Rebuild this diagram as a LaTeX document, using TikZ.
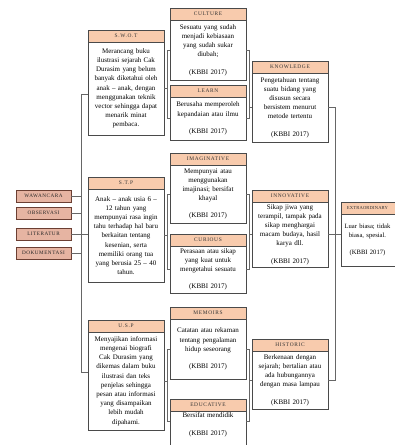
\documentclass[tikz,border=0pt]{standalone}
\usepackage{fontspec}
\setmainfont{Liberation Serif}
\usepackage{tikz}
\usetikzlibrary{positioning,calc,shadows}
\definecolor{headc}{HTML}{F8CBAD}
\definecolor{tagc}{HTML}{E6B4A2}
\definecolor{tagline}{HTML}{6B3F33}
\definecolor{boxline}{HTML}{4A4A4A}
\newcommand{\headfont}{\fontsize{5.4pt}{6pt}\selectfont\addfontfeatures{LetterSpace=12}}
\newcommand{\bodyfont}{\fontsize{7pt}{9.2pt}\selectfont}
\tikzset{
    headbox/.style={
        rectangle,
        draw=boxline, line width=0.7pt,
        fill=headc,
        minimum width=76pt,
        minimum height=12pt,
        inner sep=0pt, outer sep=0pt,
        anchor=north west,
        font=\headfont,
        text=black!80,
        drop shadow={shadow xshift=0.9pt, shadow yshift=-0.9pt, opacity=0.3}
    },
    bodybox/.style={
        rectangle,
        draw=boxline, line width=0.7pt,
        fill=white,
        text width=70pt,
        inner xsep=3pt, inner ysep=2pt, outer sep=0pt,
        minimum height=#1,
        align=center,
        font=\bodyfont,
        drop shadow={shadow xshift=0.9pt, shadow yshift=-0.9pt, opacity=0.3}
    },
    tagbox/.style={
        rectangle,
        draw=tagline, line width=0.7pt,
        fill=tagc,
        minimum width=55pt,
        minimum height=12pt,
        inner sep=0pt,
        font=\fontsize{5.2pt}{5.5pt}\selectfont\addfontfeatures{LetterSpace=10},
        text=black!85
    },
    line/.style={draw=black!60, line width=0.6pt},
}
\begin{document}
\begin{tikzpicture}[x=1pt,y=-1pt]
        \clip (0,0) rectangle (395,445);

        % Sources on the left
        \node[tagbox] (waw) at (43.5,196) {WAWANCARA};
        \node[tagbox] (obs) at (43.5,213) {OBSERVASI};
        \node[tagbox] (lit) at (43.5,234) {LITERATUR};
        \node[tagbox] (dok) at (43.5,253) {DOKUMENTASI};

        % First column
        \node[headbox] (swoth) at (88,30) {S.W.O.T};
        \node[bodybox=93pt, below=0pt of swoth] (swotb) {Merancang buku\\ ilustrasi sejarah Cak\\ Durasim yang belum\\ banyak diketahui oleh\\ anak -- anak, dengan\\ menggunakan teknik\\ vector sehingga dapat\\ menarik minat\\ pembaca.};
        \node[headbox] (stph) at (88,177) {S.T.P};
        \node[bodybox=93pt, below=0pt of stph] (stpb) {Anak -- anak usia 6 --\\ 12 tahun yang\\ mempunyai rasa ingin\\ tahu terhadap hal baru\\ berkaitan tentang\\ kesenian, serta\\ memiliki orang tua\\ yang berusia 25 -- 40\\ tahun.};
        \node[headbox] (usph) at (88,320) {U.S.P};
        \node[bodybox=98pt, below=0pt of usph] (uspb) {Menyajikan informasi\\ mengenai biografi\\ Cak Durasim yang\\ dikemas dalam buku\\ ilustrasi dan teks\\ penjelas sehingga\\ pesan atau informasi\\ yang disampaikan\\ lebih mudah\\ dipahami.};

        % Second column
        \node[headbox] (culth) at (170,8) {CULTURE};
        \node[bodybox=60pt, below=0pt of culth] (cultb) {Sesuatu yang sudah\\ menjadi kebiasaan\\ yang sudah sukar\\ diubah;\\[8pt] (KBBI 2017)};
        \node[headbox] (learnh) at (170,85) {LEARN};
        \node[bodybox=43pt, below=0pt of learnh] (learnb) {Berusaha memperoleh\\ kepandaian atau ilmu\\[8pt] (KBBI 2017)};
        \node[headbox] (imagh) at (170,153) {IMAGINATIVE};
        \node[bodybox=58pt, below=0pt of imagh] (imagb) {Mempunyai atau\\ menggunakan\\ imajinasi; bersifat\\ khayal\\[8pt] (KBBI 2017)};
        \node[headbox] (curh) at (170,234) {CURIOUS};
        \node[bodybox=47pt, below=0pt of curh] (curb) {Perasaan atau sikap\\ yang kuat untuk\\ mengetahui sesuatu\\[8pt] (KBBI 2017)};
        \node[headbox] (memh) at (170,307) {MEMOIRS};
        \node[bodybox=60pt, below=0pt of memh] (memb) {Catatan atau rekaman\\ tentang pengalaman\\ hidup seseorang\\[8pt] (KBBI 2017)};
        \node[headbox] (eduh) at (170,399) {EDUCATIVE};
        \node[bodybox=0pt, below=0pt of eduh] (edub) {Bersifat mendidik\\[8pt] (KBBI 2017)\\[16pt]\mbox{}};

        % Third column
        \node[headbox] (knowh) at (252,61) {KNOWLEDGE};
        \node[bodybox=69pt, below=0pt of knowh] (knowb) {Pengetahuan tentang\\ suatu bidang yang\\ disusun secara\\ bersistem menurut\\ metode tertentu\\[8pt] (KBBI 2017)};
        \node[headbox] (innoh) at (252,190) {INNOVATIVE};
        \node[bodybox=65pt, below=0pt of innoh] (innob) {Sikap jiwa yang\\ terampil, tampak pada\\ sikap menghargai\\ macam budaya, hasil\\ karya dll.\\[8pt] (KBBI 2017)};
        \node[headbox] (histh) at (252,339) {HISTORIC};
        \node[bodybox=58pt, below=0pt of histh] (histb) {Berkenaan dengan\\ sejarah; bertalian atau\\ ada hubungannya\\ dengan masa lampau\\[8pt] (KBBI 2017)};

        % Last column, running off the right edge
        \node[headbox, align=left] (exth) at (341,202) {\makebox[53pt][c]{\fontsize{4.6pt}{5pt}\selectfont\addfontfeatures{LetterSpace=3}EXTRAORDINARY}\hspace{23pt}};
        \node[bodybox=52pt, below=0pt of exth, align=left] (extb) {\parbox{47pt}{\centering\fontsize{6.6pt}{9pt}\selectfont Luar biasa; tidak\\ biasa, spesial.\\[8pt] (KBBI 2017)}};

        % Trunk on the left
        \coordinate (trunkT) at (81,94);
        \coordinate (trunkB) at (81,372);
        \draw[line] (swotb.west |- trunkT) -- (trunkT) -- (trunkB) -- (uspb.west |- trunkB);
        \foreach \t in {waw,obs,dok}
            \draw[line] (\t.east) -- (\t.east -| trunkT);
        \draw[line] (lit.east) -- (lit.east -| stpb.west);

        % Brackets between the columns
        \coordinate (eduL) at ($(edub.north west)+(0,10)$);
        \coordinate (eduR) at ($(edub.north east)+(0,10)$);
        \draw[line] (cultb.west) -- ++(-3,0) |- (learnb.west);
        \draw[line] (imagb.west) -- ++(-3,0) |- (curb.west);
        \draw[line] (memb.west) -- ++(-3,0) |- (eduL);
        \foreach \s in {swotb,stpb,uspb}
            \draw[line] (\s.east) -- ++(3,0);
        \draw[line] (cultb.east) -- ++(3,0) |- (learnb.east);
        \draw[line] (imagb.east) -- ++(3,0) |- (curb.east);
        \draw[line] (memb.east) -- ++(3,0) |- (eduR);
        \foreach \s in {knowb,innob,histb}
            \draw[line] (\s.west) -- ++(-3,0);

        % Trunk on the right
        \draw[line] (knowb.east) -- ++(7,0) |- (histb.east);
        \draw[line] (innob.east) -- (innob.east -| extb.west);

\end{tikzpicture}
\end{document}
